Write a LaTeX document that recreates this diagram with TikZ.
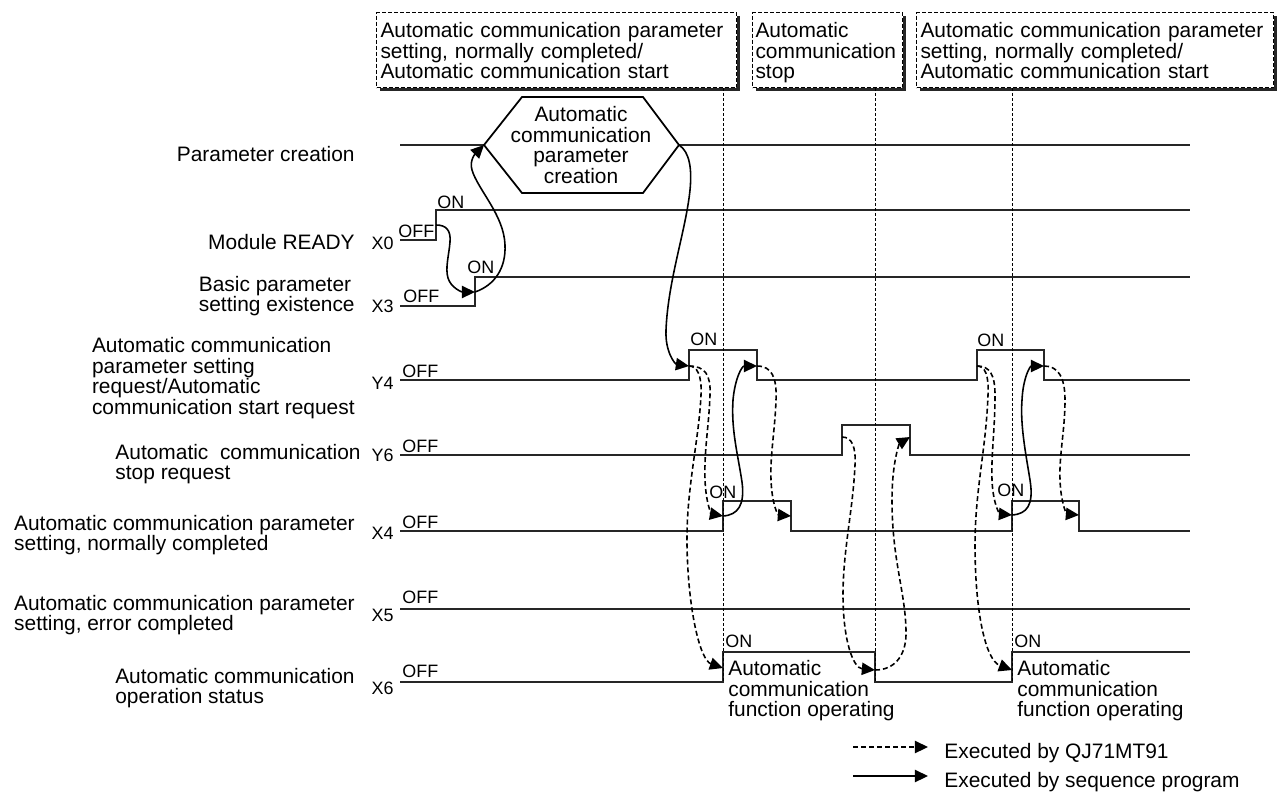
\documentclass[tikz,border=0pt]{standalone}
\usepackage{fontspec}
\setmainfont{Liberation Sans}
\usetikzlibrary{arrows.meta,shadows}

\newlength{\unitpx}
\setlength{\unitpx}{0.02cm}
\newcommand{\chartfont}{\fontsize{11.9}{11.8}\selectfont}
\newcommand{\onofffont}{\fontsize{10.2}{10}\selectfont}

\begin{document}
\begin{tikzpicture}[x=0.02cm, y=-0.02cm, font=\chartfont,
    every node/.style={inner sep=0pt},
    wave/.style={line width=1pt, draw=black!85},
    guide/.style={line width=0.5pt, dash pattern=on 3\unitpx off 2\unitpx},
    seqarrow/.style={line width=0.9pt, -{Triangle[length=7.5pt, width=7pt]}},
    qjarrow/.style={seqarrow, dash pattern=on 5\unitpx off 3\unitpx},
    sigid/.style={anchor=east, font=\onofffont},
    state/.style={anchor=base west, font=\onofffont},
    siglabel/.style={anchor=east, align=left},
    note/.style={draw, fill=white, line width=0.6pt, dash pattern=on 4\unitpx off 2\unitpx,
      anchor=north west, align=left, inner xsep=4\unitpx, inner ysep=0pt,
      text height=25\unitpx, text depth=50\unitpx,
      drop shadow={shadow xshift=3\unitpx, shadow yshift=-3\unitpx, opacity=1, fill=black!85}}]
    \useasboundingbox (0,0) rectangle (1277,792);

    % Draw notes at the top
    \node[note, text width=352\unitpx] (note1) at (376,12) {Automatic communication parameter\\setting, normally completed/\\Automatic communication start};
    \node[note, text width=144\unitpx, inner xsep=3\unitpx] (note2) at (752,12) {Automatic\\communication\\stop};
    \node[note, text width=349\unitpx] (note3) at (916,12) {Automatic communication parameter\\setting, normally completed/\\Automatic communication start};

    % Signal names
    \foreach \name/\x/\y/\txt in {pc/355/154/{Parameter creation}, ready/355/242/{Module READY},
        basic/355/296/{Basic parameter\\setting existence},
        req/355/378/{Automatic communication\\parameter setting\\request/Automatic\\communication start request},
        stop/361/464/{Automatic\ \ communication\\stop request},
        done/355/535/{Automatic communication parameter\\setting, normally completed},
        err/355/615/{Automatic communication parameter\\setting, error completed},
        oper/355/688/{Automatic communication\\operation status}} {
      \node[siglabel] (lbl\name) at (\x,\y) {\txt};
    }
    \foreach \sig/\y in {X0/243, X3/306, Y4/383, Y6/455, X4/533, X5/615, X6/688} {
      \node[sigid] (id\sig) at (394,\y) {\sig};
    }

    % Draw OFF and ON states
    \foreach \sig/\x/\y in {X0/398/237, X3/403/302, Y4/402/377, Y6/402/452, X4/402/528, X5/402/603, X6/402/677} {
      \node[state] (off\sig) at (\x,\y) {OFF};
    }
    \foreach \n/\x/\y in {X0/437/208, X3/467/273, Y4a/690/345, Y4b/977/346, X4a/709/498, X4b/997/496, X6a/725/647, X6b/1014/647} {
      \node[state] (on\n) at (\x,\y) {ON};
    }

    % Parameter creation
    \coordinate (hexL) at (484,145);
    \coordinate (hexR) at (679,145);
    \draw[wave] (400,145) -- (hexL);
    \draw[wave] (hexR) -- (1190,145);
    \draw[line width=1pt] (hexL) -- (522,97) -- (643,97) -- (hexR) -- (643,193) -- (522,193) -- cycle;
    \node[align=center] (hex) at (581,145) {Automatic\\communication\\parameter\\creation};

    % Draw waveforms
    \draw[wave] (400,240) -- (436,240) -- (436,210) -- (1190,210);
    \draw[wave] (400,306) -- (475,306) -- (475,277) -- (1190,277);
    \draw[wave] (400,380) -- (689,380) -- (689,350) -- (757,350) -- (757,380) -- (977,380)
      -- (977,350) -- (1044,350) -- (1044,380) -- (1190,380);
    \draw[wave] (400,455) -- (842,455) -- (842,425) -- (910,425) -- (910,455) -- (1190,455);
    \draw[wave] (400,531) -- (723,531) -- (723,501) -- (791,501) -- (791,531) -- (1012,531)
      -- (1012,501) -- (1079,501) -- (1079,531) -- (1190,531);
    \draw[wave] (400,609) -- (1190,609);
    \draw[wave] (400,682) -- (723,682) -- (723,652) -- (875,652) -- (875,682) -- (1012,682)
      -- (1012,652) -- (1190,652);

    \node[anchor=north west, align=left] (oper1) at (728,660) {Automatic\\communication\\function operating};
    \node[anchor=north west, align=left] (oper2) at (1017,660) {Automatic\\communication\\function operating};

    % Edges of the waveforms
    \coordinate (x0r) at (436,225);
    \coordinate (x3r) at (475,292);
    \coordinate (y4r1) at (689,366);
    \coordinate (y4f1) at (757,366);
    \coordinate (y4r2) at (977,366);
    \coordinate (y4f2) at (1044,366);
    \coordinate (y6r) at (842,437);
    \coordinate (y6f) at (910,437);
    \coordinate (x4r1) at (723,516);
    \coordinate (x4f1) at (791,516);
    \coordinate (x4r2) at (1012,515);
    \coordinate (x4f2) at (1079,515);
    \coordinate (x6r1) at (723,668);
    \coordinate (x6f) at (875,670);
    \coordinate (x6r2) at (1012,670);
    \coordinate (x6lo1) at (723,682);
    \coordinate (x6lo2) at (875,682);
    \coordinate (x6lo3) at (1012,682);

    % Draw guide lines
    \draw[guide] (note1.south -| x6lo1) -- (x6lo1);
    \draw[guide] (note2.south -| x6lo2) -- (x6lo2);
    \draw[guide] (note3.south -| x6lo3) -- (x6lo3);

    % Executed by sequence program
    \draw[seqarrow] (x0r) .. controls (446,225) and (451,230) .. (450,242) .. controls (449,255) and (445,268) .. (448,278)
      .. controls (451,288) and (462,292) .. (x3r);
    \draw[seqarrow] (x3r) .. controls (495,285) and (506,268) .. (505,245) .. controls (504,215) and (478,190) .. (472,170)
      .. controls (469,160) and (476,153) .. (hexL);
    \draw[seqarrow] (hexR) .. controls (690,152) and (692,170) .. (690,190) .. controls (686,230) and (668,280) .. (666,330)
      .. controls (665,352) and (675,364) .. (y4r1);
    \draw[seqarrow] (x4r1) .. controls (738,515) and (745,505) .. (742,482) .. controls (738,455) and (731,430) .. (733,400)
      .. controls (735,378) and (742,366) .. (y4f1);
    \draw[seqarrow] (x4r2) .. controls (1027,514) and (1034,505) .. (1030,480) .. controls (1026,455) and (1020,425) .. (1022,400)
      .. controls (1023,378) and (1030,366) .. (y4f2);

    % Executed by QJ71MT91
    \draw[qjarrow] (y4r1) .. controls (705,366) and (711,375) .. (710,395) .. controls (709,425) and (704,450) .. (705,480)
      .. controls (706,505) and (712,514) .. (x4r1);
    \draw[qjarrow] (y4r1) .. controls (697,366) and (702,375) .. (701,395) .. controls (699,440) and (686,490) .. (687,545)
      .. controls (688,610) and (700,660) .. (x6r1);
    \draw[qjarrow] (y4f1) .. controls (772,366) and (777,378) .. (776,400) .. controls (775,430) and (770,455) .. (771,480)
      .. controls (772,505) and (778,515) .. (x4f1);
    \draw[qjarrow] (y6r) .. controls (852,437) and (856,447) .. (855,465) .. controls (853,510) and (843,550) .. (843,595)
      .. controls (843,640) and (853,668) .. (x6f);
    \draw[qjarrow] (x6f) .. controls (895,670) and (907,655) .. (906,630) .. controls (905,590) and (892,560) .. (892,500)
      .. controls (892,460) and (900,443) .. (y6f);
    \draw[qjarrow] (y4r2) .. controls (990,366) and (995,375) .. (995,395) .. controls (995,430) and (991,455) .. (992,480)
      .. controls (993,505) and (1000,514) .. (x4r2);
    \draw[qjarrow] (y4r2) .. controls (985,366) and (989,375) .. (988,395) .. controls (986,450) and (975,490) .. (975,545)
      .. controls (975,610) and (985,660) .. (x6r2);
    \draw[qjarrow] (y4f2) .. controls (1058,366) and (1065,377) .. (1065,400) .. controls (1065,430) and (1059,455) .. (1060,480)
      .. controls (1061,505) and (1067,514) .. (x4f2);

    % Legend
    \node[anchor=base west] (legqj) at (944,758) {Executed by QJ71MT91};
    \node[anchor=base west] (legseq) at (944,787) {Executed by sequence program};
    \coordinate (legqjstart) at (853,747);
    \coordinate (legseqstart) at (853,776);
    \draw[qjarrow, shorten >=16\unitpx] (legqjstart) -- (legqjstart -| legqj.west);
    \draw[seqarrow, shorten >=16\unitpx] (legseqstart) -- (legseqstart -| legseq.west);
  \end{tikzpicture}
\end{document}
